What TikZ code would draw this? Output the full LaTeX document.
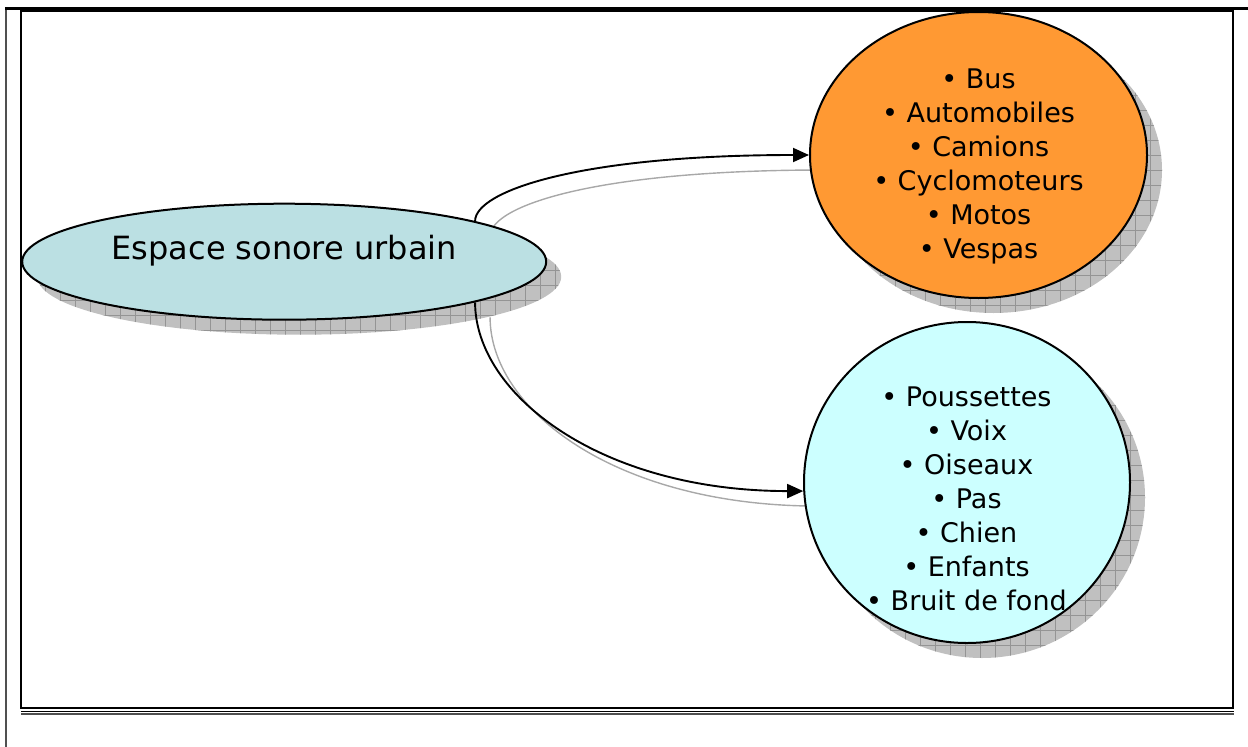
\documentclass[tikz,border=0pt]{standalone}
\usepackage{fontspec}
\setmainfont{DejaVu Sans}
\usetikzlibrary{shapes.geometric,arrows.meta,backgrounds}
\definecolor{ellfill}{HTML}{BBE0E3}
\definecolor{orangefill}{HTML}{FF9933}
\definecolor{cyanfill}{HTML}{CCFFFF}
\definecolor{shadowfill}{HTML}{C0C0C0}
\definecolor{shadowgrid}{HTML}{949494}
\definecolor{shadowline}{HTML}{A8A8A8}
\definecolor{outerline}{HTML}{505050}
\begin{document}
\begin{tikzpicture}[x=1pt,y=-1pt,
  bubble/.style={ellipse, draw=black, line width=2pt, inner sep=0pt},
  conn/.style={draw=black, line width=1.9pt, -{Triangle[length=16pt,width=14pt]}},
  shadowconn/.style={draw=shadowline, line width=1.4pt},
  listtext/.style={font=\fontsize{27}{34}\selectfont, align=center, inner sep=0pt, anchor=north},
  titletext/.style={font=\fontsize{32}{38}\selectfont, inner sep=0pt, anchor=base}]
\useasboundingbox (0,0) rectangle (1248,747);

% frame
\draw[outerline, line width=2pt] (6,8.5) -- (6,747);
\draw[black, line width=2.2pt] (5,8.5) -- (1248,8.5);
\draw[black, line width=2.5pt] (21,11) rectangle (1233,708);
\draw[black, line width=1.6pt] (21,711.5) -- (1234,711.5);
\draw[outerline, line width=2pt] (21,714) -- (1234,714);

% shapes
\node[bubble, fill=ellfill, minimum width=524pt, minimum height=116pt] (espace) at (284.2,261.7) {};
\node[bubble, fill=orangefill, minimum width=337pt, minimum height=286pt] (orange) at (978.5,155) {};
\node[bubble, fill=cyanfill, minimum width=326pt, minimum height=321pt] (cyan) at (967,482.5) {};

% shadows
\begin{pgfonlayer}{background}
  \begin{scope}
    \clip (299.2,276.7) ellipse [x radius=262, y radius=58];
    \fill[shadowfill] (30,210) rectangle (570,340);
    \foreach \gx in {30,45,...,570} \draw[shadowgrid, line width=0.5pt] (\gx,210) -- (\gx,340);
    \foreach \gy in {210,225,...,340} \draw[shadowgrid, line width=0.5pt] (30,\gy) -- (570,\gy);
  \end{scope}
  \begin{scope}
    \clip (993.5,170) ellipse [x radius=168.5, y radius=143];
    \fill[shadowfill] (820,20) rectangle (1170,320);
    \foreach \gx in {820,835,...,1170} \draw[shadowgrid, line width=0.5pt] (\gx,20) -- (\gx,320);
    \foreach \gy in {20,35,...,320} \draw[shadowgrid, line width=0.5pt] (820,\gy) -- (1170,\gy);
  \end{scope}
  \begin{scope}
    \clip (982,497.5) ellipse [x radius=163, y radius=160.5];
    \fill[shadowfill] (815,330) rectangle (1150,665);
    \foreach \gx in {815,830,...,1150} \draw[shadowgrid, line width=0.5pt] (\gx,330) -- (\gx,665);
    \foreach \gy in {330,345,...,665} \draw[shadowgrid, line width=0.5pt] (815,\gy) -- (1150,\gy);
  \end{scope}
  \begin{scope}[transform canvas={xshift=15pt, yshift=-15pt}]
    \draw[shadowconn] (espace.12.7) .. controls +(0,-30) and +(-230,0) .. (orange.west);
    \draw[shadowconn] (espace.-12.7) .. controls +(0,92) and +(-203,0) .. (cyan.183);
  \end{scope}
\end{pgfonlayer}

% connectors
\draw[conn] (espace.12.7) .. controls +(0,-30) and +(-230,0) .. (orange.west);
\draw[conn] (espace.-12.7) .. controls +(0,92) and +(-203,0) .. (cyan.183);

% texts
\node[titletext] (title) at (284.2,259.5) {Espace sonore urbain};
\node[listtext] (orangelist) at (978.5,68.8) {\textbullet\ Bus\\\textbullet\ Automobiles\\\textbullet\ Camions\\\textbullet\ Cyclomoteurs\\\textbullet\ Motos\\\textbullet\ Vespas};
\node[listtext] (cyanlist) at (966.5,386.5) {\textbullet\ Poussettes\\\textbullet\ Voix\\\textbullet\ Oiseaux\\\textbullet\ Pas\\\textbullet\ Chien\\\textbullet\ Enfants\\\textbullet\ Bruit de fond};
\end{tikzpicture}
\end{document}
